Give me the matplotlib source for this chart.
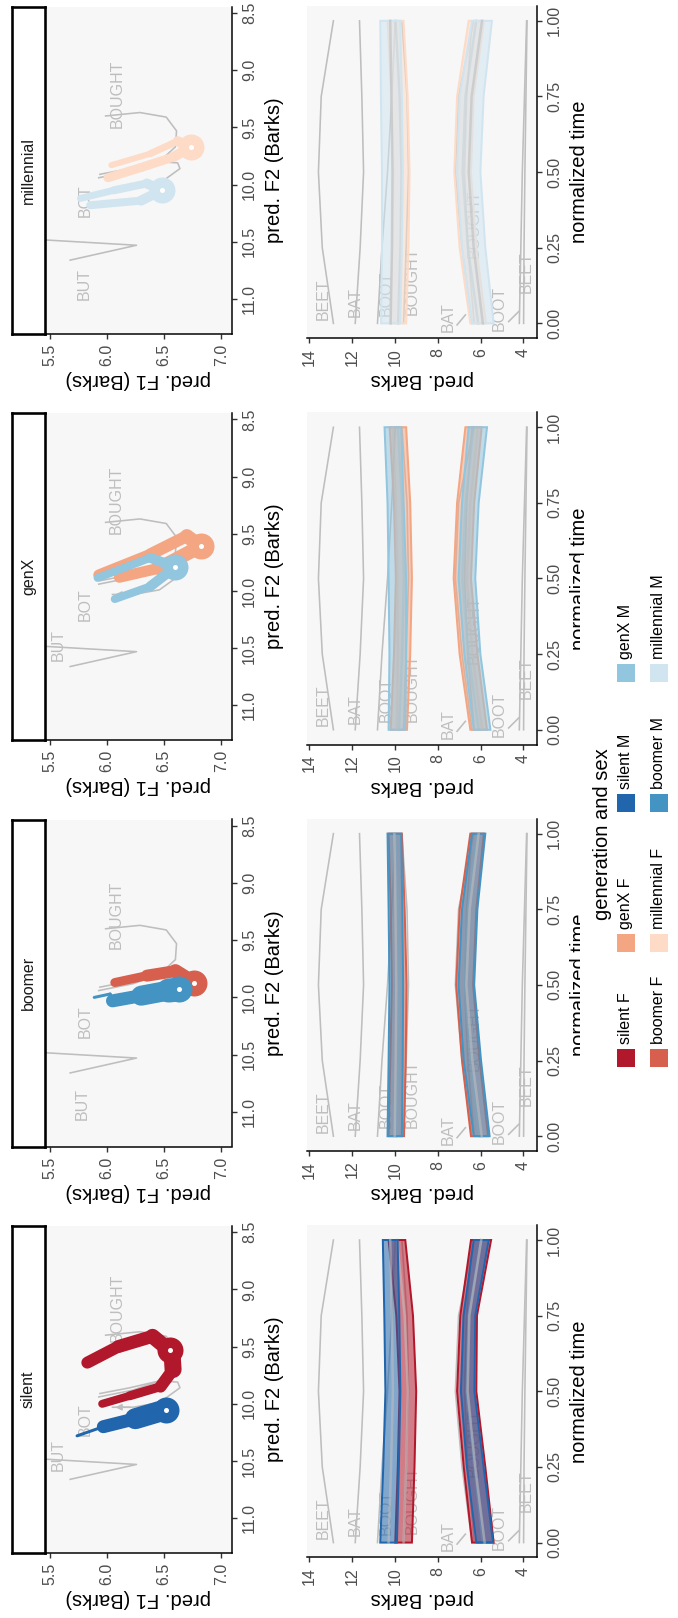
import numpy as np
import matplotlib
matplotlib.use("Agg")
import matplotlib.pyplot as plt
from matplotlib.patches import Rectangle
from matplotlib.colors import to_rgba

plt.rcParams['font.family'] = ['Liberation Sans', 'DejaVu Sans']

# ---------------- data ----------------
generations = ["millennial", "genX", "boomer", "silent"]   # image top -> bottom
sexes = ["F", "M"]
group_colors = {
    ("silent", "F"): "#B2182B", ("boomer", "F"): "#D6604D",
    ("genX", "F"): "#F4A582", ("millennial", "F"): "#FDDBC7",
    ("silent", "M"): "#2166AC", ("boomer", "M"): "#4393C3",
    ("genX", "M"): "#92C5DE", ("millennial", "M"): "#D1E5F0",
}
legend_order = [("silent", "F"), ("boomer", "F"), ("genX", "F"), ("millennial", "F"),
                ("silent", "M"), ("boomer", "M"), ("genX", "M"), ("millennial", "M")]

f1_ticks = [5.5, 6.0, 6.5, 7.0]
f2_ticks = [8.5, 9.0, 9.5, 10.0, 10.5, 11.0]
barks_ticks = [4, 6, 8, 10, 12, 14]
time_ticks = [0.0, 0.25, 0.5, 0.75, 1.0]

# reference (gray) trajectories in the vowel space
but_f1 = [5.40, 6.26, 5.68]
but_f2 = [10.48, 10.53, 10.66]
bot_f1 = [5.94, 6.20, 6.46, 6.62, 6.64, 6.46, 6.23, 6.05]
bot_f2 = [9.91, 9.86, 9.80, 9.81, 9.86, 9.99, 10.03, 10.03]
bought_f1 = [5.99, 6.29, 6.52, 6.61, 6.60, 6.46, 6.23, 5.93]
bought_f2 = [9.40, 9.37, 9.41, 9.53, 9.67, 9.80, 9.88, 9.94]

# coloured trajectories (F1, F2) and nucleus
silent_F_f1 = [5.96, 6.20, 6.47, 6.58, 6.57, 6.40, 6.10, 5.83]
silent_F_f2 = [10.00, 9.93, 9.85, 9.70, 9.55, 9.41, 9.50, 9.64]
silent_M_f1 = [5.74, 5.97, 6.25, 6.52]
silent_M_f2 = [10.28, 10.20, 10.13, 10.05]
boomer_F_f1 = [6.07, 6.35, 6.60, 6.76]
boomer_F_f2 = [9.87, 9.81, 9.77, 9.87]
boomer_M_f1 = [5.89, 6.03, 6.05, 6.30, 6.54, 6.635]
boomer_M_f2 = [10.00, 9.97, 10.03, 9.985, 9.94, 9.93]
genX_F_f1 = [5.93, 6.38, 6.70, 6.82, 6.46, 6.11]
genX_F_f2 = [9.86, 9.68, 9.52, 9.61, 9.80, 9.88]
genX_M_f1 = [5.92, 6.38, 6.60, 6.38, 6.07]
genX_M_f2 = [9.885, 9.71, 9.79, 9.96, 10.07]
millennial_F_f1 = [6.04, 6.38, 6.62, 6.74, 6.58, 6.30, 6.01]
millennial_F_f2 = [9.83, 9.73, 9.62, 9.67, 9.76, 9.85, 9.94]
millennial_M_f1 = [5.77, 6.06, 6.35, 6.48, 6.30, 5.855]
millennial_M_f2 = [10.12, 10.05, 9.99, 10.05, 10.14, 10.18]

nucleus_f1 = {"silent": (6.55, 6.52), "boomer": (6.76, 6.635),
              "genX": (6.82, 6.60), "millennial": (6.74, 6.48)}
nucleus_f2 = {"silent": (9.53, 10.05), "boomer": (9.87, 9.93),
              "genX": (9.61, 9.79), "millennial": (9.67, 10.05)}

# time-normalised reference trajectories (gray)
time_pts = [0.0, 0.25, 0.5, 0.75, 1.0]
beet_f2_t = [12.88, 13.40, 13.58, 13.45, 12.88]
bat_f2_t = [11.86, 11.63, 11.47, 11.55, 11.66]
boot_f2_t = [10.82, 10.61, 10.35, 10.15, 9.99]
bought_f2_t = [9.60, 9.48, 9.37, 9.44, 9.68]
bat_f1_t = [6.40, 6.87, 7.18, 7.03, 6.32]
bought_f1_t = [6.30, 6.60, 6.75, 6.65, 6.40]
boot_f1_t = [4.19, 4.12, 4.05, 3.95, 3.85]
beet_f1_t = [3.99, 3.97, 3.93, 3.88, 3.83]

# ribbons (upper / lower Barks) over time
silent_F_f2_hi = [9.99, 9.87, 9.79, 9.94, 10.30]
silent_F_f2_lo = [9.21, 9.09, 9.01, 9.16, 9.52]
silent_M_f2_hi = [10.69, 10.55, 10.45, 10.50, 10.57]
silent_M_f2_lo = [9.91, 9.82, 9.75, 9.80, 9.88]
silent_F_f1_hi = [6.40, 6.79, 7.10, 6.95, 6.45]
silent_F_f1_lo = [5.39, 5.78, 6.20, 6.17, 5.51]
silent_M_f1_hi = [6.20, 6.64, 6.92, 6.80, 6.32]
silent_M_f1_lo = [5.42, 5.86, 6.29, 6.25, 5.62]

boomer_F_f2_hi = [10.30, 10.22, 10.15, 10.20, 10.30]
boomer_F_f2_lo = [9.58, 9.50, 9.46, 9.55, 9.68]
boomer_M_f2_hi = [10.35, 10.30, 10.26, 10.30, 10.35]
boomer_M_f2_lo = [9.68, 9.64, 9.62, 9.66, 9.71]
boomer_F_f1_hi = [6.45, 6.87, 7.14, 6.98, 6.48]
boomer_F_f1_lo = [5.65, 6.05, 6.35, 6.20, 5.85]
boomer_M_f1_hi = [6.32, 6.79, 7.03, 6.87, 6.40]
boomer_M_f1_lo = [5.58, 5.98, 6.30, 6.15, 5.78]

genX_F_f2_hi = [10.20, 10.05, 9.96, 10.05, 10.25]
genX_F_f2_lo = [9.44, 9.29, 9.21, 9.29, 9.48]
genX_M_f2_hi = [10.30, 10.26, 10.30, 10.35, 10.49]
genX_M_f2_lo = [9.52, 9.48, 9.48, 9.60, 9.71]
genX_F_f1_hi = [6.48, 6.98, 7.26, 7.10, 6.71]
genX_F_f1_lo = [5.70, 6.15, 6.45, 6.30, 5.95]
genX_M_f1_hi = [6.32, 6.76, 7.03, 6.87, 6.56]
genX_M_f1_lo = [5.54, 6.01, 6.25, 6.09, 5.70]

millennial_F_f2_hi = [10.23, 10.12, 10.07, 10.16, 10.35]
millennial_F_f2_lo = [9.48, 9.37, 9.32, 9.41, 9.60]
millennial_M_f2_hi = [10.65, 10.61, 10.61, 10.66, 10.69]
millennial_M_f2_lo = [9.76, 9.68, 9.63, 9.68, 9.76]
millennial_F_f1_hi = [6.48, 6.98, 7.23, 7.10, 6.56]
millennial_F_f1_lo = [5.75, 6.20, 6.45, 6.32, 5.85]
millennial_M_f1_hi = [6.40, 6.87, 7.10, 6.98, 6.40]
millennial_M_f1_lo = [5.39, 5.78, 6.01, 5.86, 5.47]

# ---------------- styles (pixel widths of coloured paths) ----------------
traj_width_px = {
    ("silent", "F"): [8, 9, 12, 17, 15, 13, 12],
    ("silent", "M"): [3, 13, 21],
    ("boomer", "F"): [9, 12, 14],
    ("boomer", "M"): [3, 3, 13, 20, 24],
    ("genX", "F"): [11, 12, 14, 14, 11, 10],
    ("genX", "M"): [8, 10, 10, 8],
    ("millennial", "F"): [6, 7, 10, 10, 9, 9],
    ("millennial", "M"): [7, 8, 10, 10, 8],
}
nucleus_d_px = {"F": 26, "M": 26}

g = globals()
traj = {(gen, s): (g[f"{gen}_{s}_f1"], g[f"{gen}_{s}_f2"]) for gen in generations for s in sexes}
ribbons = {(gen, s): {k: g[f"{gen}_{s}_{k}"] for k in ["f2_hi", "f2_lo", "f1_hi", "f1_lo"]}
           for gen in generations for s in sexes}

# ---------------- layout ----------------
W, H, DPI = 678, 1618, 100
PX = 72.0 / DPI          # points per pixel
GRAY = "#BEBEBE"
PANEL_BG = "#F7F7F7"
TICK_FS = 11.5
TITLE_FS = 14.5

fig = plt.figure(figsize=(W / DPI, H / DPI), dpi=DPI)
fig.patch.set_facecolor("white")


def add_ax(x0, x1, y0, y1):
    return fig.add_axes([x0 / W, 1 - y1 / H, (x1 - x0) / W, (y1 - y0) / H])


def style_axes(ax):
    ax.set_facecolor(PANEL_BG)
    ax.spines["top"].set_visible(False)
    ax.spines["left"].set_visible(False)
    for s in ["bottom", "right"]:
        ax.spines[s].set_linewidth(1.5 * PX)
        ax.spines[s].set_color("black")
    ax.yaxis.tick_right()
    ax.yaxis.set_label_position("right")
    ax.tick_params(length=5 * PX, width=1.4 * PX, color="#333333",
                   labelcolor="#4D4D4D", labelsize=TICK_FS, pad=3.5)


vowel_labels = {
    "millennial": {"BUT": (5.80, 10.87), "BOT": (5.81, 10.14), "BOUGHT": (6.09, 9.21)},
    "genX": {"BUT": (5.58, 10.47), "BOT": (5.81, 10.12), "BOUGHT": (6.08, 9.20)},
    "boomer": {"BUT": (5.79, 10.93), "BOT": (5.81, 10.21), "BOUGHT": (6.08, 9.28)},
    "silent": {"BUT": (5.58, 10.45), "BOT": (5.81, 10.14), "BOUGHT": (6.09, 9.16)},
}
time_labels_left = {"BEET": (13.34, 0.08), "BAT": (11.86, 0.07),
                    "BOOT": (10.43, 0.10), "BOUGHT": (9.18, 0.14)}
time_labels_right = {"BAT": (7.49, 0.02), "BOUGHT": (6.32, 0.33),
                     "BOOT": (5.12, 0.05), "BEET": (3.87, 0.17)}

for i, gen in enumerate(generations):
    top = 6.7 + i * 406.4

    # ---- vowel space panel ----
    ax = add_ax(45, 232, top, top + 327)
    style_axes(ax)
    ax.set_xlim(5.46, 7.095)
    ax.set_ylim(11.303, 8.445)
    ax.set_xticks(f1_ticks)
    ax.set_xticklabels([f"{v:.1f}" for v in f1_ticks], rotation=90)
    ax.set_yticks(f2_ticks)
    ax.set_yticklabels([f"{v:.1f}" for v in f2_ticks], rotation=90, va="center")
    ax.set_xlabel("pred. F1 (Barks)", rotation=180, fontsize=TITLE_FS, labelpad=3)
    ax.set_ylabel("pred. F2 (Barks)", rotation=90, fontsize=TITLE_FS, labelpad=6)

    ax.plot(but_f1, but_f2, color=GRAY, lw=1.6 * PX, zorder=2)
    ax.plot(bought_f1, bought_f2, color=GRAY, lw=1.6 * PX, zorder=2)
    ax.plot(bot_f1, bot_f2, color=GRAY, lw=1.6 * PX, zorder=2)
    ax.annotate("", xy=(bot_f1[-1], bot_f2[-1]), xytext=(bot_f1[-2], bot_f2[-2]),
                arrowprops=dict(arrowstyle="-|>", color=GRAY, lw=1.6 * PX,
                                mutation_scale=9), zorder=2)
    for name, (lx, ly) in vowel_labels[gen].items():
        ax.text(lx, ly, name, rotation=90, ha="center", va="center",
                fontsize=TICK_FS, color=GRAY, zorder=2)

    for j, s in enumerate(sexes):
        col = group_colors[(gen, s)]
        f1, f2 = traj[(gen, s)]
        wid = traj_width_px[(gen, s)]
        for k in range(len(f1) - 1):
            ax.plot(f1[k:k + 2], f2[k:k + 2], color=col, lw=wid[k] * PX,
                    solid_capstyle="round", zorder=3 + j)
        nx, ny = nucleus_f1[gen][j], nucleus_f2[gen][j]
        ax.plot([nx], [ny], "o", ms=nucleus_d_px[s] * PX, color=col, mew=0, zorder=3 + j)
        ax.plot([nx], [ny], "o", ms=5.0 * PX, color="white", mew=0, zorder=3.5 + j)

    # ---- strip (drawn above the panel so its frame is complete) ----
    sax = add_ax(12, 45, top, top + 327)
    sax.set_zorder(5)
    sax.set_xticks([]); sax.set_yticks([])
    sax.set_facecolor("white")
    for s in sax.spines.values():
        s.set_visible(True)
        s.set_linewidth(2.6 * PX); s.set_color("black")
    sax.text(0.5, 0.5, gen, rotation=90, ha="center", va="center",
             fontsize=TICK_FS, color="#1A1A1A", transform=sax.transAxes)

    # ---- time panel ----
    tax = add_ax(307.3, 537.3, top - 0.7, top + 331.5)
    style_axes(tax)
    tax.set_xlim(14.1, 3.35)
    tax.set_ylim(-0.049, 1.049)
    tax.set_xticks(barks_ticks)
    tax.set_xticklabels([str(v) for v in barks_ticks], rotation=90)
    tax.set_yticks(time_ticks)
    tax.set_yticklabels([f"{v:.2f}" for v in time_ticks], rotation=90, va="center")
    tax.set_xlabel("pred. Barks", rotation=180, fontsize=TITLE_FS, labelpad=3)
    tax.set_ylabel("normalized time", rotation=90, fontsize=TITLE_FS, labelpad=6)

    for arr in [beet_f2_t, bat_f2_t, boot_f2_t, bought_f2_t,
                bat_f1_t, bought_f1_t, boot_f1_t, beet_f1_t]:
        tax.plot(arr, time_pts, color=GRAY, lw=1.6 * PX, zorder=2)
    for name, (lx, ly) in time_labels_left.items():
        tax.text(lx, ly, name, rotation=90, ha="center", va="center",
                 fontsize=TICK_FS, color=GRAY, zorder=2)
    for name, (lx, ly) in time_labels_right.items():
        tax.text(lx, ly, name, rotation=90, ha="center", va="center",
                 fontsize=TICK_FS, color=GRAY, zorder=2)
    tax.plot([7.10, 6.71], [-0.005, 0.028], color=GRAY, lw=1.6 * PX, zorder=2)
    tax.plot([4.69, 4.22], [0.006, 0.039], color=GRAY, lw=1.6 * PX, zorder=2)

    for j, s in enumerate(sexes):
        col = group_colors[(gen, s)]
        rb = ribbons[(gen, s)]
        for hi, lo in [(rb["f2_hi"], rb["f2_lo"]), (rb["f1_hi"], rb["f1_lo"])]:
            xs = list(hi) + list(lo)[::-1]
            ys = list(time_pts) + list(time_pts)[::-1]
            tax.fill(xs, ys, facecolor=to_rgba(col, 0.55), edgecolor=col,
                     lw=2.0 * PX, zorder=3 + j)
            mid = [(a + b) / 2 for a, b in zip(hi, lo)]
            tax.plot(mid, time_pts, color=GRAY, lw=2.5 * PX, alpha=0.6, zorder=3.5 + j)

# ---------------- legend ----------------
lax = fig.add_axes([580 / W, 1 - 1075 / H, 98 / W, 520 / H])
lax.set_zorder(20)
lax.set_xlim(580, 678)
lax.set_ylim(1075, 555)
lax.set_facecolor("white")
lax.set_xticks([]); lax.set_yticks([])
for s in lax.spines.values():
    s.set_visible(False)
lax.text(603, 834, "generation and sex", rotation=90, ha="center", va="center",
         fontsize=TITLE_FS, color="black")
key_x = [617, 650]
key_y = [1058, 943, 803, 673]
for idx, (gen, s) in enumerate(legend_order):
    c = idx // 2
    r = idx % 2
    kx, ky = key_x[r], key_y[c]
    lax.add_patch(Rectangle((kx, ky - 9), 18, 18, facecolor=group_colors[(gen, s)],
                            edgecolor="none"))
    lax.text(kx + 9, ky - 9 - 5, f"{gen} {s}", rotation=90, ha="center", va="bottom",
             fontsize=TICK_FS, color="black")

fig.savefig("out.png", dpi=DPI, facecolor="white")
